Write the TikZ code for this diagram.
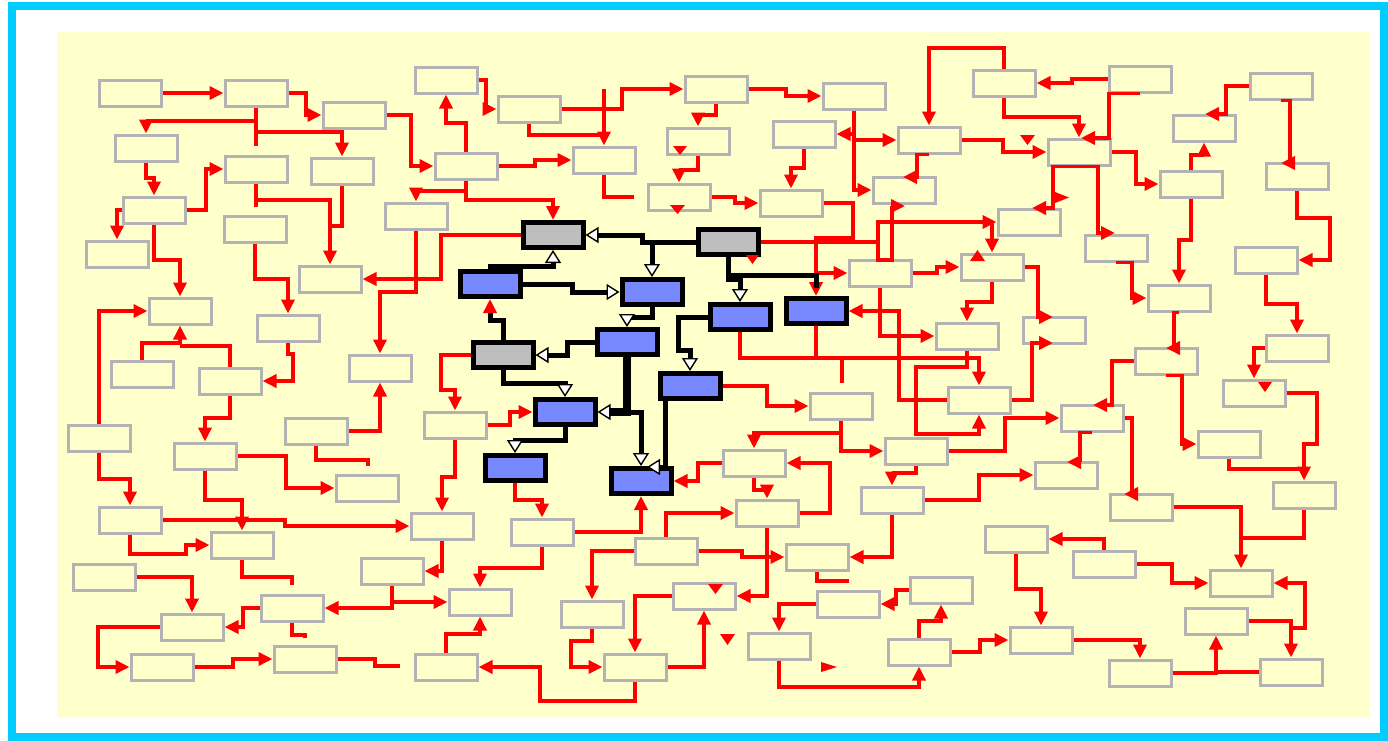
\documentclass[tikz,border=0pt]{standalone}
\usetikzlibrary{arrows.meta}
\definecolor{cyanF}{HTML}{00CCFF}
\definecolor{bgY}{HTML}{FFFFCC}
\definecolor{gbox}{HTML}{B3B3B3}
\definecolor{bluef}{HTML}{7888FF}
\definecolor{grayf}{HTML}{BEBEBE}
\tikzset{
 gb/.style={draw=gbox, line width=1.5pt, minimum width=31pt, minimum height=13pt, inner sep=0pt},
 kb/.style={draw=black, line width=2.5pt, minimum width=30pt, minimum height=12.5pt, inner sep=0pt},
 kg/.style={kb, fill=grayf},
 kbl/.style={kb, fill=bluef},
 rl/.style={draw=red, line width=1.9pt},
 ra/.style={rl, -{Triangle[length=7pt,width=6.5pt]}},
 kl/.style={draw=black, line width=2.5pt},
 ka/.style={kl, -{Triangle[open,fill=white,length=6.5pt,width=8pt,line width=0.7pt]}},
 kr/.style={kl, -{Triangle[length=7pt,width=6.5pt,color=red]}},
}
\begin{document}
\begin{tikzpicture}[x=0.5pt,y=-0.5pt]
\useasboundingbox (0,0) rectangle (1388,740);
\draw[cyanF, line width=4pt, fill=white] (12,5.5) rectangle (1383.5,736.5);
\fill[bgY] (57,32) rectangle (1369,718);
% gray boxes
\node[gb] (B1) at (130,93) {};
\node[gb] (B2) at (256,93) {};
\node[gb] (B3) at (354,115) {};
\node[gb] (B4) at (146,148) {};
\node[gb] (B5) at (256,169) {};
\node[gb] (B6) at (342,171) {};
\node[gb] (B7) at (154,210) {};
\node[gb] (B8) at (255,229) {};
\node[gb] (B9) at (117,254) {};
\node[gb] (B10) at (330,279) {};
\node[gb] (B11) at (180,311) {};
\node[gb] (B12) at (288,328) {};
\node[gb] (B13) at (142,374) {};
\node[gb] (B14) at (230,381) {};
\node[gb] (B15) at (99,438) {};
\node[gb] (B16) at (205,456) {};
\node[gb] (B17) at (316,431) {};
\node[gb] (B18) at (367,488) {};
\node[gb] (B19) at (130,520) {};
\node[gb] (B20) at (242,545) {};
\node[gb] (B21) at (442,526) {};
\node[gb] (B22) at (104,577) {};
\node[gb] (B23) at (192,627) {};
\node[gb] (B24) at (292,608) {};
\node[gb] (B25) at (392,571) {};
\node[gb] (B26) at (480,602) {};
\node[gb] (B27) at (162,667) {};
\node[gb] (B28) at (305,659) {};
\node[gb] (B29) at (455,425) {};
\node[gb] (B30) at (542,532) {};
\node[gb] (B31) at (446,667) {};
\node[gb] (B32) at (592,614) {};
\node[gb] (B33) at (666,551) {};
\node[gb] (B34) at (635,667) {};
\node[gb] (B35) at (704,596) {};
\node[gb] (B36) at (767,513) {};
\node[gb] (B37) at (817,557) {};
\node[gb] (B38) at (754,463) {};
\node[gb] (B39) at (848,604) {};
\node[gb] (B40) at (941,590) {};
\node[gb] (B41) at (779,646) {};
\node[gb] (B42) at (919,652) {};
\node[gb] (B43) at (1041,640) {};
\node[gb] (B44) at (892,500) {};
\node[gb] (B45) at (1016,539) {};
\node[gb] (B46) at (1141,507) {};
\node[gb] (B47) at (1092,418) {};
\node[gb] (B48) at (1066,475) {};
\node[gb] (B50) at (1104,564) {};
\node[gb] (B51) at (1241,583) {};
\node[gb] (B52) at (1304,495) {};
\node[gb] (B53) at (1216,621) {};
\node[gb] (B54) at (1291,672) {};
\node[gb] (B55) at (1140,673) {};
\node[gb] (B57) at (1116,248) {};
\node[gb] (B58) at (1266,260) {};
\node[gb] (B59) at (1297,176) {};
\node[gb] (B60) at (1179,298) {};
\node[gb] (B61) at (1191,184) {};
\node[gb] (B62) at (1166,361) {};
\node[gb] (B63) at (1229,444) {};
\node[gb] (B64) at (1254,393) {};
\node[gb] (B65) at (1297,348) {};
\node[gb] (B66) at (1054,330) {};
\node[gb] (B67) at (992,267) {};
\node[gb] (B68) at (979,400) {};
\node[gb] (B69) at (916,451) {};
\node[gb] (B70) at (880,273) {};
\node[gb] (B71) at (967,336) {};
\node[gb] (B73) at (841,406) {};
\node[gb] (B74) at (716,89) {};
\node[gb] (B75) at (854,96) {};
\node[gb] (B76) at (804,134) {};
\node[gb] (B77) at (904,190) {};
\node[gb] (B78) at (929,140) {};
\node[gb] (B79) at (1004,83) {};
\node[gb] (B80) at (1079,152) {};
\node[gb] (B81) at (1029,222) {};
\node[gb] (B82) at (791,203) {};
\node[gb] (B83) at (698,141) {};
\node[gb] (B84) at (679,197) {};
\node[gb] (B85) at (446,80) {};
\node[gb] (B86) at (529,109) {};
\node[gb] (B87) at (466,166) {};
\node[gb] (B88) at (604,160) {};
\node[gb] (B89) at (416,216) {};
\node[gb] (B90) at (380,368) {};
\node[gb] (B91) at (1140,79) {};
\node[gb] (B92) at (1204,128) {};
\node[gb] (B93) at (1281,86) {};
% black-bordered boxes
\node[kg] (G1) at (553,235) {};
\node[kg] (G2) at (728,242) {};
\node[kg] (G3) at (503,355) {};
\node[kbl] (L1) at (490,284) {};
\node[kbl] (L2) at (652,292) {};
\node[kbl] (L3) at (627,342) {};
\node[kbl] (L4) at (740,317) {};
\node[kbl] (L5) at (816,311) {};
\node[kbl] (L6) at (565,412) {};
\node[kbl] (L7) at (515,468) {};
\node[kbl] (L8) at (641,481) {};
\node[kbl] (L9) at (690,386) {};
% red connectors - left
\draw[ra] (B1.east) -- (B2.west);
\draw[ra] (B2.east) -- (306,93) -- (306,115) -- (B3.west);
\draw[ra] (B2.south) -- (256,121) -- (146,121) -- (B4.north);
\draw[ra] (B2.south) -- (256,132) -- (342,132) -- (B6.north);
\draw[rl] (256,132) -- (256,146);
\draw[ra] (B4.south) -- (146,178) -- (154,178) -- (B7.north);
\draw[ra] (B7.east) -- (206,210) -- (206,169) -- (B5.west);
\draw[ra] (B7.west) -- (117,210) -- (B9.north);
\draw[ra] (B7.south) -- (154,260) -- (180,260) -- (B11.north);
\draw[ra] (B5.south) -- (256,200) -- (330,200) -- (B10.north);
\draw[rl] (256,200) -- (256,207);
\draw[rl] (B6.south) -- (342,226) -- (330,226);
\draw[ra] (B8.south) -- (255,279) -- (288,279) -- (B12.north);
\draw[ra] (B13.north) -- (142,343) -- (180,343) -- (B11.south);
\draw[rl] (B14.north) -- (230,346) -- (180,346);
\draw[ra] (B12.south) -- (288,354) -- (293,354) -- (293,381) -- (B14.east);
\draw[ra] (B15.north) -- (99,311) -- (B11.west);
\draw[ra] (B14.south) -- (230,418) -- (205,418) -- (B16.north);
\draw[rl] (B17.south) -- (316,460) -- (368,460) -- (368,466);
\draw[ra] (B16.east) -- (286,456) -- (286,488) -- (B18.west);
\draw[ra] (B15.south) -- (99,479) -- (130,479) -- (B19.north);
\draw[ra] (B16.south) -- (205,500) -- (242,500) -- (B20.north);
\draw[ra] (B19.east) -- (285,520) -- (285,526) -- (B21.west);
\draw[ra] (B19.south) -- (130,554) -- (186,554) -- (186,545) -- (B20.west);
\draw[ra] (B22.east) -- (192,577) -- (B23.north);
\draw[rl] (B20.south) -- (242,577) -- (292,577) -- (292,585);
\draw[ra] (B24.west) -- (243,608) -- (243,627) -- (B23.east);
\draw[ra] (B25.south) -- (392,602) -- (B26.west);
\draw[ra] (392,602) -- (392,608) -- (B24.east);
\draw[rl] (B24.south) -- (292,635) -- (305,635) -- (305,638);
\draw[ra] (B23.west) -- (98,627) -- (98,667) -- (B27.west);
\draw[ra] (B27.east) -- (233,667) -- (233,659) -- (B28.west);
\draw[rl] (B28.east) -- (375,659) -- (375,666) -- (400,666);
% red connectors - centre
\draw[ra] (B29.south) -- (455,477) -- (442,477) -- (B21.north);
\draw[ra] (B21.south) -- (442,571) -- (B25.east);
\draw[ra] (L7.south) -- (515,500) -- (542,500) -- (B30.north);
\draw[ra] (B30.east) -- (641,532) -- (L8.south);
\draw[ra] (B30.south) -- (542,568) -- (480,568) -- (B26.north);
\draw[ra] (B31.north) -- (446,634) -- (480,634) -- (B26.south);
\draw[ra] (B33.west) -- (592,551) -- (B32.north);
\draw[ra] (B32.south) -- (592,641) -- (571,641) -- (571,667) -- (B34.west);
\draw[ra] (B34.south) -- (635,701) -- (540,701) -- (540,667) -- (B31.east);
\draw[ra] (B35.west) -- (635,596) -- (B34.north);
\draw[ra] (B34.east) -- (704,667) -- (B35.south);
\draw[ra] (B33.north) -- (666,513) -- (B36.west);
\draw[ra] (B33.east) -- (742,551) -- (742,557) -- (B37.west);
\draw[ra] (B36.south) -- (767,596) -- (B35.east);
\draw[ra] (B36.east) -- (830,513) -- (830,463) -- (B38.east);
\draw[ra] (B38.south) -- (754,490) -- (767,490) -- (B36.north);
\draw[rl] (B37.south) -- (817,581) -- (849,581);
\draw[ra] (B40.west) -- (896,590) -- (896,604) -- (B39.east);
\draw[ra] (B39.west) -- (779,604) -- (B41.north);
\draw[ra] (B41.south) -- (779,687) -- (919,687) -- (B42.south);
\draw[ra] (B42.north) -- (919,621) -- (941,621) -- (B40.south);
\draw[ra] (B42.east) -- (980,652) -- (980,640) -- (B43.west);
\draw[ra] (B44.east) -- (979,500) -- (979,475) -- (B48.west);
\draw[ra] (B44.south) -- (892,557) -- (B37.east);
\draw[ra] (B45.south) -- (1016,589) -- (1041,589) -- (B43.north);
\draw[ra] (B85.east) -- (486,80) -- (486,109) -- (B86.west);
\draw[ra] (B86.east) -- (622,109) -- (622,89) -- (B74.west);
\draw[ra] (B86.south) -- (529,135) -- (604,135) -- (B88.north);
\draw[rl] (604,89) -- (604,135);
\draw[ra] (B87.north) -- (466,123) -- (446,123) -- (B85.south);
\draw[ra] (B87.east) -- (535,166) -- (535,160) -- (B88.west);
\draw[ra] (B87.south) -- (466,191) -- (416,191) -- (B89.north);
\draw[ra] (466,191) -- (466,200) -- (553,200) -- (G1.north);
\draw[ra] (B3.east) -- (411,115) -- (411,166) -- (B87.west);
\draw[rl] (B88.south) -- (604,197) -- (634,197);
\draw[ra] (B89.south) -- (416,292) -- (380,292) -- (B90.north);
\draw[ra] (G1.west) -- (441,235) -- (441,279) -- (B10.east);
\draw[ra] (G3.west) -- (441,355) -- (441,390) -- (455,390) -- (B29.north);
\draw[ra] (B29.east) -- (510,425) -- (510,412) -- (L6.west);
\draw[ra] (B17.east) -- (380,431) -- (B90.south);
\draw[ra] (L4.south) -- (740,358) -- (979,358) -- (B68.north);
\draw[rl] (L5.south) -- (816,358);
\draw[rl] (842,358) -- (842,383);
\draw[ra] (L9.east) -- (767,386) -- (767,406) -- (B73.west);
\draw[ra] (B73.south) -- (841,451) -- (B69.west);
\draw[ra] (841,433) -- (754,433) -- (B38.north);
\draw[ra] (B38.west) -- (698,463) -- (698,481) -- (L8.east);
\draw[ra] (B70.south) -- (880,336) -- (B71.west);
\draw[ra] (B68.west) -- (899,400) -- (899,311) -- (L5.east);
\draw[ra] (B71.south) -- (967,367) -- (916,367) -- (916,434) -- (979,434) -- (B68.south);
\draw[ra] (B67.south) -- (992,302) -- (967,302) -- (B71.north);
\draw[ra] (B70.east) -- (937,273) -- (937,267) -- (B67.west);
\draw[ra] (B67.east) -- (1038,267) -- (1038,317) -- (1053,317);
\draw[ra] (B68.east) -- (1032,400) -- (1032,343) -- (1053,343);
\draw[ra] (B69.east) -- (1005,451) -- (1005,418) -- (B47.west);
\draw[ra] (B69.south) -- (916,473) -- (892,473) -- (B44.north);
% red connectors - top middle
\draw[ra] (B74.east) -- (786,89) -- (786,96) -- (B75.west);
\draw[ra] (B75.south) -- (854,190) -- (B77.west);
\draw[ra] (854,134) -- (B76.east);
\draw[ra] (854,140) -- (B78.west);
\draw[ra] (B79.north) -- (1004,48) -- (929,48) -- (B78.north);
\draw[ra] (B78.south) -| (917,177) -- (903,177);
\draw[ra] (G2.east) -- (878,242) -- (878,222) -- (B81.west);
\draw[ra] (878,242) -- (878,260) -- (892,260) -- (892,206) -- (905,206);
\draw[ra] (992,222) -- (B67.north);
\draw[ra] (B82.east) -- (853,203) -- (853,238) -- (816,238) -- (L5.north);
\draw[ra] (816,273) -- (B70.west);
\draw[ra] (B76.south) -- (804,168) -- (791,168) -- (B82.north);
\draw[ra] (B74.south) -- (716,115) -- (698,115) -- (B83.north);
\draw[ra] (B83.south) -- (698,170) -- (679,170) -- (B84.north);
\draw[ra] (B84.east) -- (735,197) -- (735,203) -- (B82.west);
% red connectors - right
\draw[ra] (B79.south) -- (1004,117) -- (1079,117) -- (B80.north);
\draw[ra] (B78.east) -- (1003,140) -- (1003,152) -- (B80.west);
\draw[ra] (B91.west) -- (1072,79) -- (1072,83) -- (B79.east);
\draw[ra] (B91.south) -| (1109,138) -- (1081,138);
\draw[ra] (B80.south) -| (1053,208) -- (1032,208);
\draw[ra] (B80.south) -| (1098,233) -- (1115,233);
\draw[ra] (B80.east) -- (1136,152) -- (1136,184) -- (B61.west);
\draw[ra] (B61.north) -- (1191,155) -- (1204,155) -- (B92.south);
\draw[ra] (B93.west) -- (1226,86) -- (1226,114) -- (1205,114);
\draw[ra] (B93.south) -| (1290,163) -- (1281,163);
\draw[ra] (B61.south) -- (1191,240) -- (1179,240) -- (B60.north);
\draw[ra] (B57.south) -| (1132,298) -- (B60.west);
\draw[ra] (B60.south) -| (1174,348) -- (1166,348);
\draw[ra] (B62.west) -- (1112,361) -- (1112,405) -- (1093,405);
\draw[ra] (B62.south) -| (1182,444) -- (B63.west);
\draw[ra] (B59.south) -- (1297,218) -- (1330,218) -- (1330,260) -- (B58.east);
\draw[ra] (B58.south) -- (1266,304) -- (1297,304) -- (B65.north);
\draw[ra] (B65.west) -- (1254,348) -- (B64.north);
\draw[ra] (B63.south) -- (1229,469) -- (1304,469) -- (B52.north);
\draw[rl] (B64.east) -- (1317,393) -- (1317,444) -- (1304,444) -- (1304,469);
\draw[ra] (B47.south) -| (1080,462) -- (1067,462);
\draw[ra] (B47.east) -- (1132,418) -- (1132,494) -- (1124,494);
\draw[ra] (B50.north) -- (1104,539) -- (B45.east);
\draw[ra] (B50.east) -- (1172,564) -- (1172,583) -- (B51.west);
\draw[ra] (B46.east) -- (1241,507) -- (B51.north);
\draw[rl] (B52.south) -- (1304,538) -- (1241,538);
\draw[ra] (B43.east) -- (1140,640) -- (B55.north);
\draw[ra] (B55.east) -- (1216,673) -- (B53.south);
\draw[rl] (B54.west) -- (1216,672);
\draw[ra] (B53.east) -- (1291,621) -- (B54.north);
\draw[ra] (1291,628) -- (1305,628) -- (1305,583) -- (B51.east);
% floating arrowheads
\fill[red] (1258,382) -- (1272,382) -- (1265,392) -- cycle;
\fill[red] (1020,135) -- (1035,135) -- (1027.5,145) -- cycle;
\fill[red] (673,146) -- (687,146) -- (680,155) -- cycle;
\fill[red] (670,205) -- (685,205) -- (677.5,214) -- cycle;
\fill[red] (746,255) -- (759,255) -- (752.5,264) -- cycle;
\fill[red] (708,584) -- (723,584) -- (715.5,594) -- cycle;
\fill[red] (720,634) -- (735,634) -- (727.5,645) -- cycle;
\fill[red] (821,662) -- (821,672) -- (837,667) -- cycle;
\fill[red] (970,261) -- (985,261) -- (977.5,250) -- cycle;
\fill[red] (1055,192) -- (1055,203) -- (1069,197.5) -- cycle;
% black connectors
\draw[ka] (G2.west) -- (642,242) -- (642,235) -- (G1.east);
\draw[ka] (652,242) -- (L2.north);
\draw[ka] (L1.north) -- (490,266) -- (553,266) -- (G1.south);
\draw[ka] (L1.east) -- (572,284) -- (572,292) -- (L2.west);
\draw[ka] (L2.south) -- (652,317) -- (627,317) -- (L3.north);
\draw[ka] (L3.west) -- (567,342) -- (567,355) -- (G3.east);
\draw[ka] (G3.south) -- (503,383) -- (565,383) -- (L6.north);
\draw[ka, line width=4pt] (L3.south) -- (627,412) -- (L6.east);
\draw[ka] (627,412) -- (641,412) -- (L8.north);
\draw[ka] ([xshift=-12.5pt]L9.south) -- (665,467) -- (647,467);
\draw[ka] (L6.south) -- (565,440) -- (515,440) -- (L7.north);
\draw[ka] (G2.south) -- (728,279) -- (740,279) -- (L4.north);
\draw[kl] (728,275) -- (816,275) -- (816,288);
\draw[ka] (L4.west) -- (678,317) -- (678,350) -- (690,350) -- (L9.north);
\draw[kr] (G3.north) -- (503,320) -- (490,320) -- (L1.south);
\end{tikzpicture}
\end{document}
